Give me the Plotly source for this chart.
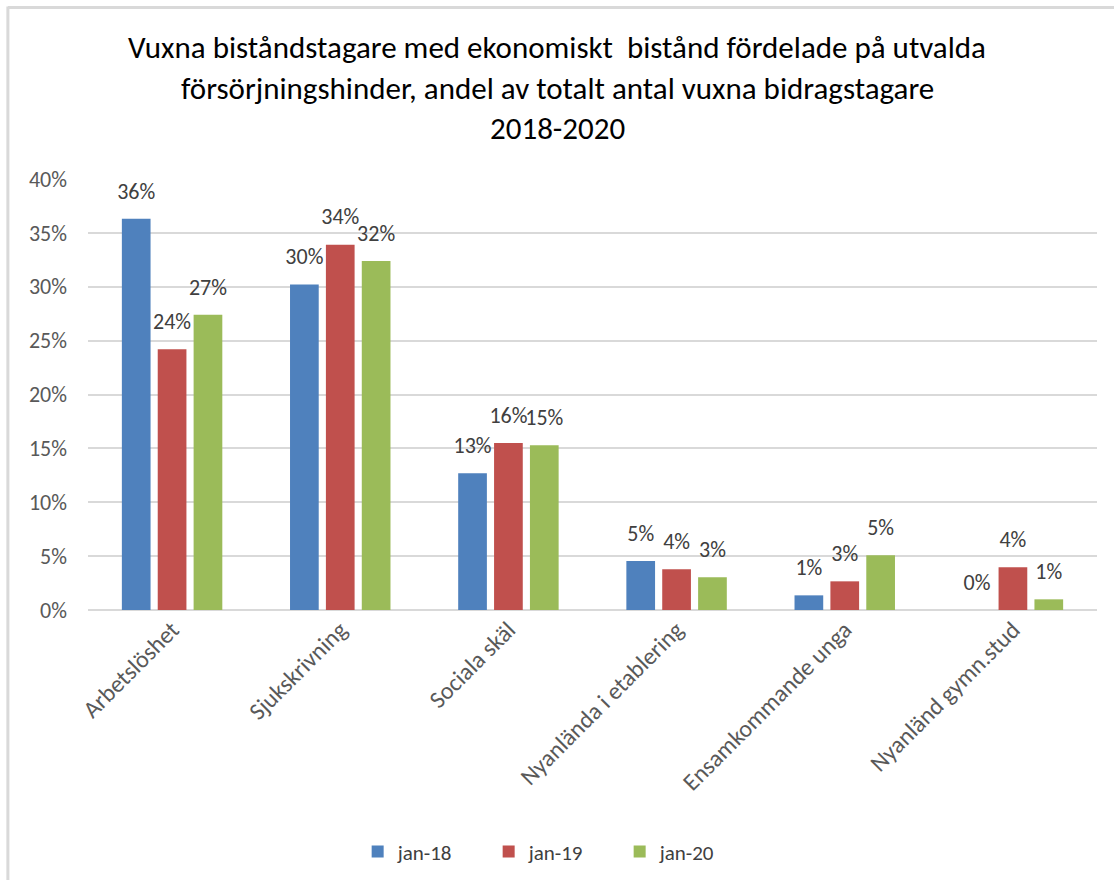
import plotly.graph_objects as go

categories = ["Arbetslöshet", "Sjukskrivning", "Sociala skäl", "Nyanlända i etablering",
              "Ensamkommande unga", "Nyanländ gymn.stud"]
series_names = ["jan-18", "jan-19", "jan-20"]
jan18 = [0.363, 0.302, 0.127, 0.0455, 0.0136, 0.0]
jan19 = [0.242, 0.339, 0.155, 0.0378, 0.0266, 0.0396]
jan20 = [0.274, 0.324, 0.153, 0.0304, 0.0508, 0.0099]
colors = ["#4f81bd", "#c0504d", "#9bbb59"]
y_ticks = [0, 0.05, 0.10, 0.15, 0.20, 0.25, 0.30, 0.35, 0.40]
title_lines = ["Vuxna biståndstagare med ekonomiskt  bistånd fördelade på utvalda",
               "försörjningshinder, andel av totalt antal vuxna bidragstagare",
               "2018-2020"]

FONT = "Carlito, Lato, sans-serif"

fig = go.Figure()
for name, vals, col in zip(series_names, [jan18, jan19, jan20], colors):
    fig.add_trace(go.Bar(
        x=categories, y=vals, name=name, marker_color=col, marker_line_width=0,
        offsetgroup=name, hoverinfo="x+y",
    ))
for name, vals in zip(series_names, [jan18, jan19, jan20]):
    fig.add_trace(go.Scatter(
        x=categories, y=vals, mode="markers+text", offsetgroup=name,
        texttemplate="%{y:.0%}", textposition="top center", cliponaxis=False,
        marker=dict(size=22, opacity=0), showlegend=False, hoverinfo="skip",
        textfont=dict(family=FONT, size=22, color="#404040"),
    ))

ann = []
for line, yp in zip(title_lines, [1.306, 1.211, 1.118]):
    ann.append(dict(text=line, xref="paper", yref="paper", x=0.465, y=yp,
                    xanchor="center", yanchor="middle", showarrow=False,
                    font=dict(family=FONT, size=31, color="#000000")))

fig.update_layout(
    width=1114, height=880,
    paper_bgcolor="white", plot_bgcolor="white",
    margin=dict(l=88, r=17, t=179, b=270, autoexpand=False),
    barmode="group", bargap=0.36, bargroupgap=0.2,
    scattermode="group", scattergap=0.36,
    font=dict(family=FONT, color="#595959"),
    annotations=ann,
    showlegend=True,
    legend=dict(orientation="h", x=0.462, y=-0.561, xanchor="center", yanchor="middle",
                font=dict(family=FONT, size=21, color="#404040"), entrywidth=86,
                traceorder="normal"),
    shapes=[dict(type="line", xref="paper", yref="paper", x0=-0.0794, x1=-0.0794,
                 y0=1.4, y1=-0.65, line=dict(color="#d9d9d9", width=3)),
            dict(type="line", xref="paper", yref="paper", x0=-0.0794, x1=1.02,
                 y0=1.398, y1=1.398, line=dict(color="#d9d9d9", width=3))],
)
fig.update_yaxes(range=[0, 0.4], tickvals=y_ticks, tickformat=".0%",
                 showgrid=True, gridcolor="#d9d9d9", gridwidth=2,
                 zeroline=True, zerolinecolor="#d9d9d9", zerolinewidth=2,
                 showline=False, ticks="", ticklabelstandoff=20,
                 tickfont=dict(family=FONT, size=22, color="#595959"))
fig.update_xaxes(tickangle=-45, showline=False, ticks="",
                 tickfont=dict(family=FONT, size=24, color="#595959"))

fig.write_html("out.html")
